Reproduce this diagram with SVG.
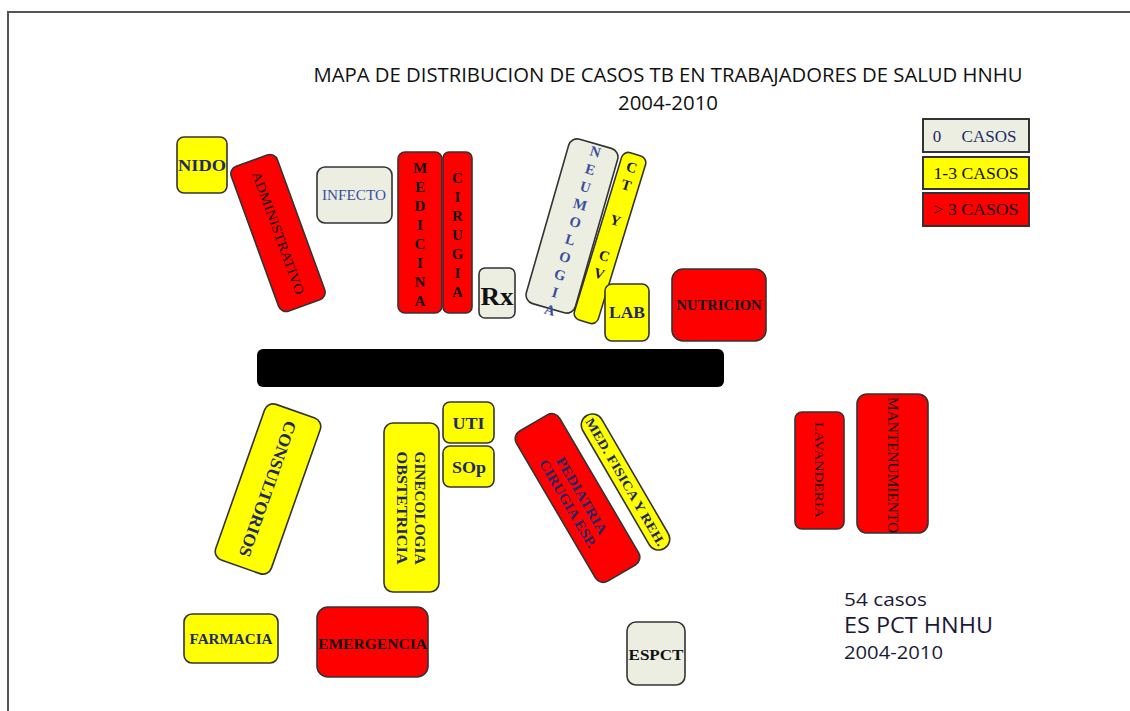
<svg xmlns="http://www.w3.org/2000/svg" width="1130" height="711" viewBox="0 0 1130 711">
<style>
.y{fill:#FFFF00;stroke:#333;stroke-width:1.6}
.r{fill:#FF0000;stroke:#333;stroke-width:1.6}
.g{fill:#ECEEE2;stroke:#333;stroke-width:1.6}
.lg{stroke:#333;stroke-width:2}
.t{font-family:"Liberation Serif","Times New Roman",serif;text-anchor:middle}
.b{font-weight:bold}
.nv{fill:#1E2A66}
.bl{fill:#3A4E9E}
.k{fill:#111}
.ti{font-family:"Open Sans","Noto Sans",sans-serif;fill:#111;text-anchor:middle}
.ft{font-family:"Open Sans","Noto Sans",sans-serif;fill:#1A1A38}
</style>
<rect width="1130" height="711" fill="#fff"/>
<g id="frame" stroke="#555" stroke-width="2" fill="none">
<path d="M8 711 V12 H1130"/>
</g>
<g id="title">
<text class="ti" x="668" y="82" font-size="20" textLength="709" lengthAdjust="spacingAndGlyphs">MAPA DE DISTRIBUCION DE CASOS TB EN TRABAJADORES DE SALUD HNHU</text>
<text class="ti" x="668" y="110" font-size="20" textLength="100" lengthAdjust="spacingAndGlyphs">2004-2010</text>
</g>
<g id="connectors"/>
<g id="corridor"><rect x="257" y="349" width="467" height="38" rx="6" fill="#000"/></g>

<g id="nido"><rect class="y" x="177" y="137" width="50" height="56" rx="7"/>
<text class="t b nv" x="202" y="171" font-size="17" textLength="48" lengthAdjust="spacingAndGlyphs">NIDO</text></g>

<g id="administrativo" transform="translate(278,233) rotate(-20)"><rect class="r" x="-24.5" y="-77" width="49" height="154" rx="8"/>
<text class="t k" transform="rotate(90)" x="0" y="4.5" font-size="13.5" textLength="130" lengthAdjust="spacingAndGlyphs">ADMINISTRATIVO</text></g>

<g id="infecto"><rect class="g" x="317" y="167" width="75" height="56" rx="8"/>
<text class="t bl" x="354" y="200" font-size="15" textLength="64" lengthAdjust="spacingAndGlyphs">INFECTO</text></g>

<g id="medicina"><rect class="r" x="398" y="152" width="44" height="161" rx="7"/>
<g class="t b k" font-size="15">
<text x="420" y="173">M</text><text x="420" y="192">E</text><text x="420" y="211">D</text><text x="420" y="230">I</text><text x="420" y="249">C</text><text x="420" y="268">I</text><text x="420" y="287">N</text><text x="420" y="306">A</text>
</g></g>

<g id="cirugia"><rect class="r" x="443" y="152" width="29" height="161" rx="6"/>
<g class="t b k" font-size="15">
<text x="457.5" y="183">C</text><text x="457.5" y="202">I</text><text x="457.5" y="221">R</text><text x="457.5" y="240">U</text><text x="457.5" y="259">G</text><text x="457.5" y="278">I</text><text x="457.5" y="297">A</text>
</g></g>

<g id="rx"><rect class="g" x="479" y="268" width="36" height="50" rx="6"/>
<text class="t b k" x="497" y="305" font-size="26" textLength="33" lengthAdjust="spacingAndGlyphs">Rx</text></g>

<g id="neumologia" transform="translate(572,226) rotate(16)"><rect class="g" x="-25.5" y="-85.5" width="51" height="171" rx="9"/>
<g class="t b bl" font-size="14.5">
<text x="2" y="-73">N</text><text x="2" y="-54.7">E</text><text x="2" y="-36.4">U</text><text x="2" y="-18.1">M</text><text x="2" y="0.2">O</text><text x="2" y="18.5">L</text><text x="2" y="36.8">O</text><text x="2" y="55.1">G</text><text x="2" y="73.4">I</text><text x="2" y="91.7">A</text>
</g></g>

<g id="ctycv" transform="translate(610,238) rotate(17)"><rect class="y" x="-12.5" y="-87.5" width="25" height="175" rx="7"/>
<g class="t b" font-size="14.5" fill="#1A1A44">
<text x="0" y="-69">C</text><text x="0" y="-50.5">T</text><text x="0" y="-13.5">Y</text><text x="0" y="23.5">C</text><text x="0" y="42">V</text>
</g></g>

<g id="lab"><rect class="y" x="605" y="284" width="44" height="57" rx="7"/>
<text class="t b nv" x="627" y="318" font-size="16" textLength="36" lengthAdjust="spacingAndGlyphs">LAB</text></g>

<g id="nutricion"><rect class="r" x="672" y="269" width="94" height="72" rx="11"/>
<text class="t b k" x="719" y="310" font-size="14" textLength="85" lengthAdjust="spacingAndGlyphs">NUTRICION</text></g>

<g id="legend">
<rect class="lg" x="923" y="119" width="106" height="33" fill="#ECEEE2"/>
<text class="t nv" font-size="17" y="142"><tspan x="937">0</tspan><tspan x="989">CASOS</tspan></text>
<rect class="lg" x="923" y="157" width="106" height="32" fill="#FFFF00"/>
<text class="t k" x="976" y="179" font-size="17" textLength="85" lengthAdjust="spacingAndGlyphs">1-3 CASOS</text>
<rect class="lg" x="923" y="193" width="106" height="33" fill="#FF0000"/>
<text class="t k" x="976" y="215" font-size="17" textLength="85" lengthAdjust="spacingAndGlyphs">&gt; 3 CASOS</text>
</g>

<g id="consultorios" transform="translate(268,489) rotate(19.4)"><rect class="y" x="-29.5" y="-82.5" width="59" height="165" rx="9"/>
<text class="t b nv" transform="rotate(90)" x="0" y="6" font-size="17" textLength="143" lengthAdjust="spacingAndGlyphs">CONSULTORIOS</text></g>

<g id="ginecologia"><rect class="y" x="384" y="423" width="55" height="169" rx="9"/>
<g transform="translate(411.5,508) rotate(90)" class="t b nv" font-size="14">
<text x="0" y="-3.5" textLength="113" lengthAdjust="spacingAndGlyphs">GINECOLOGIA</text>
<text x="0" y="14.5" textLength="113" lengthAdjust="spacingAndGlyphs">OBSTETRICIA</text>
</g></g>

<g id="uti"><rect class="y" x="443" y="402" width="51" height="41" rx="7"/>
<text class="t b nv" x="468.5" y="429" font-size="16" textLength="32" lengthAdjust="spacingAndGlyphs">UTI</text></g>

<g id="sop"><rect class="y" x="443" y="446" width="51" height="41" rx="7"/>
<text class="t b nv" x="469" y="473" font-size="16" textLength="34" lengthAdjust="spacingAndGlyphs">SOp</text></g>

<g id="pediatria" transform="translate(577.5,498) rotate(-30.4)"><rect class="r" x="-25" y="-87" width="50" height="174" rx="9"/>
<g transform="rotate(90)" class="t b nv" font-size="14">
<text x="0" y="0" textLength="87" lengthAdjust="spacingAndGlyphs">PEDIATRIA</text>
<text x="0" y="16" textLength="100" lengthAdjust="spacingAndGlyphs">CIRUGIA ESP.</text>
</g></g>

<g id="medfisica" transform="translate(625.5,482) rotate(-30.2)"><rect class="y" x="-11" y="-77" width="22" height="154" rx="11"/>
<text class="t b nv" transform="rotate(90)" x="0" y="4.5" font-size="13" textLength="146" lengthAdjust="spacingAndGlyphs">MED. FISICA Y REH.</text></g>

<g id="lavanderia"><rect class="r" x="795" y="412" width="49" height="117" rx="7"/>
<text class="t k" transform="translate(819,470) rotate(90)" x="0" y="4.5" font-size="13" textLength="96" lengthAdjust="spacingAndGlyphs">LAVANDERIA</text></g>

<g id="mantenimiento"><rect class="r" x="857" y="394" width="71" height="139" rx="10"/>
<text class="t k" transform="translate(892,465) rotate(90)" x="0" y="4.5" font-size="14" textLength="136" lengthAdjust="spacingAndGlyphs">MANTENUMIENTO</text></g>

<g id="farmacia"><rect class="y" x="184" y="614" width="94" height="49" rx="8"/>
<text class="t b nv" x="231" y="644" font-size="15" textLength="83" lengthAdjust="spacingAndGlyphs">FARMACIA</text></g>

<g id="emergencia"><rect class="r" x="317" y="607" width="111" height="70" rx="11"/>
<text class="t b k" x="372.5" y="649" font-size="15" textLength="109" lengthAdjust="spacingAndGlyphs">EMERGENCIA</text></g>

<g id="espct"><rect class="g" x="627" y="622" width="58" height="63" rx="9"/>
<text class="t b k" x="656" y="660" font-size="15" textLength="55" lengthAdjust="spacingAndGlyphs">ESPCT</text></g>

<g id="footnote">
<text class="ft" x="844" y="606" font-size="18" textLength="83" lengthAdjust="spacingAndGlyphs">54 casos</text>
<text class="ft" x="844" y="633" font-size="21" textLength="149" lengthAdjust="spacingAndGlyphs">ES PCT HNHU</text>
<text class="ft" x="844" y="659" font-size="18" textLength="99" lengthAdjust="spacingAndGlyphs">2004-2010</text>
</g>
</svg>
